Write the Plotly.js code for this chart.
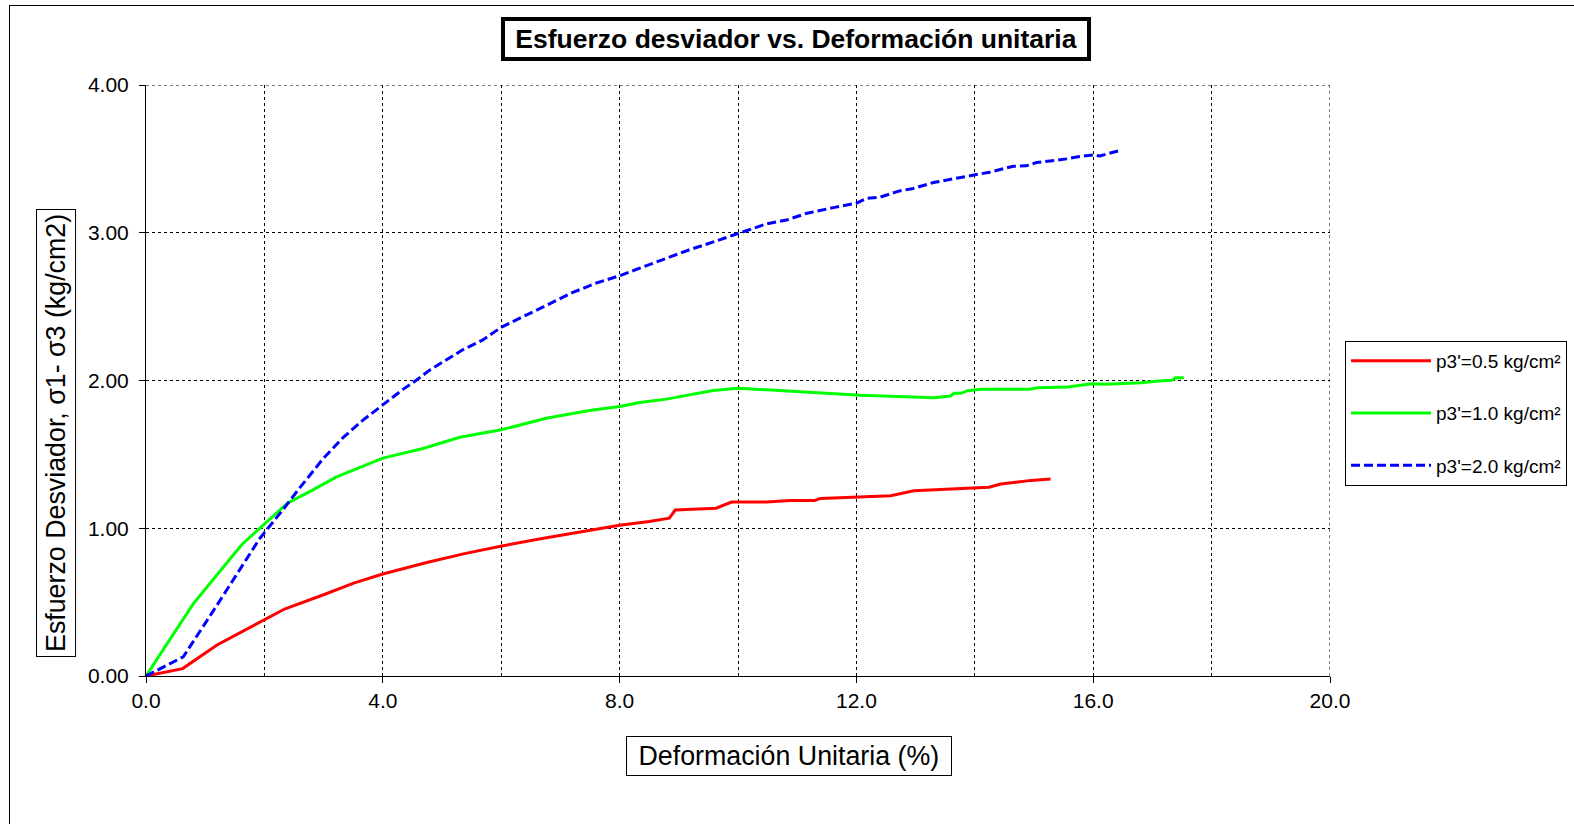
<!DOCTYPE html>
<html>
<head>
<meta charset="utf-8">
<script src="https://cdn.plot.ly/plotly-3.0.1.min.js"></script>
<style>
html, body { margin: 0; padding: 0; background: #fff; overflow: hidden; }
#chart { width: 1574px; height: 824px; }
#frame { position: absolute; left: 9px; top: 5px; width: 1600px; height: 900px; border: 1px solid #000; pointer-events: none; }
</style>
</head>
<body>
<div id="chart"></div>
<div id="frame"></div>
<script>
const seriesNames = ["p3'=0.5 kg/cm²", "p3'=1.0 kg/cm²", "p3'=2.0 kg/cm²"];

const redX = [0, 0.62, 1.2, 1.77, 2.35, 3.0, 3.52, 4.0, 4.76, 5.4, 6.01, 6.69, 7.4, 8.0, 8.5, 8.84, 8.94, 9.63, 9.89, 10.48, 10.88, 11.30, 11.39, 11.78, 12.07, 12.58, 12.97, 13.5, 14.05, 14.24, 14.44, 14.84, 14.95, 15.28];
const redY = [0, 0.05, 0.21, 0.33, 0.455, 0.55, 0.63, 0.69, 0.77, 0.83, 0.88, 0.93, 0.98, 1.02, 1.046, 1.068, 1.123, 1.136, 1.177, 1.177, 1.188, 1.188, 1.202, 1.209, 1.211, 1.220, 1.254, 1.262, 1.270, 1.277, 1.299, 1.317, 1.324, 1.333];

const greenX = [0, 0.8, 1.62, 2.03, 2.39, 2.82, 3.21, 4.0, 4.68, 5.30, 5.63, 6.0, 6.76, 7.49, 8.0, 8.34, 8.79, 9.18, 9.58, 10.0, 10.14, 11.0, 12.07, 13.31, 13.59, 13.65, 13.76, 13.88, 14.10, 14.92, 15.06, 15.57, 15.97, 16.20, 16.82, 17.10, 17.33, 17.39, 17.53];
const greenY = [0, 0.49, 0.89, 1.04, 1.17, 1.26, 1.346, 1.475, 1.54, 1.616, 1.639, 1.666, 1.745, 1.797, 1.824, 1.851, 1.874, 1.903, 1.932, 1.948, 1.945, 1.925, 1.90, 1.883, 1.895, 1.913, 1.913, 1.931, 1.940, 1.940, 1.951, 1.956, 1.978, 1.975, 1.985, 1.997, 2.001, 2.019, 2.019];

const blueX = [0, 0.63, 1.2, 1.92, 2.31, 2.59, 2.99, 3.32, 3.66, 4.0, 4.34, 4.56, 4.79, 5.35, 5.69, 6.0, 6.37, 6.76, 7.21, 7.61, 8.0, 8.34, 8.79, 9.18, 9.60, 10.0, 10.48, 10.82, 11.15, 11.61, 12.0, 12.17, 12.39, 12.73, 12.96, 13.30, 13.63, 14.0, 14.25, 14.65, 14.87, 15.04, 15.38, 15.55, 15.77, 16.0, 16.11, 16.48];
const blueY = [0, 0.13, 0.48, 0.93, 1.124, 1.27, 1.47, 1.61, 1.73, 1.836, 1.94, 2.0, 2.07, 2.208, 2.275, 2.36, 2.433, 2.512, 2.596, 2.66, 2.709, 2.76, 2.828, 2.885, 2.94, 2.995, 3.06, 3.086, 3.13, 3.17, 3.20, 3.233, 3.24, 3.283, 3.30, 3.34, 3.364, 3.39, 3.41, 3.45, 3.453, 3.475, 3.49, 3.50, 3.516, 3.527, 3.52, 3.56];

const chartTitle = "Esfuerzo desviador vs. Deformación unitaria";
const xTitle = "Deformación Unitaria (%)";
const yTitle = "Esfuerzo Desviador, σ1- σ3 (kg/cm2)";

const X_MAX = 20, Y_MAX = 4;
const FONT = "Arial, 'Liberation Sans', sans-serif";

const traces = [
  {x: redX, y: redY, name: seriesNames[0], mode: 'lines', legendgroup: 'a',
   line: {color: '#FF0000', width: 3}},
  {x: greenX, y: greenY, name: seriesNames[1], mode: 'lines', legendgroup: 'b',
   line: {color: '#00FF00', width: 3}},
  {x: blueX, y: blueY, name: seriesNames[2], mode: 'lines', legendgroup: 'c',
   line: {color: '#0000FF', width: 3, dash: '9px,4px'}}
];

const gridEdge = {type: 'line', layer: 'below', line: {color: '#000', width: 1, dash: 'dot'}};

const layout = {
  width: 1574, height: 824,
  paper_bgcolor: '#fff', plot_bgcolor: '#fff',
  margin: {l: 146, r: 244, t: 85, b: 148, autoexpand: false},
  font: {family: FONT, color: '#000', size: 21},
  showlegend: true,
  legend: {
    x: 1.0127, xanchor: 'left', y: 0.5668, yanchor: 'top',
    bordercolor: '#000', borderwidth: 1, bgcolor: '#fff',
    font: {family: FONT, size: 19, color: '#000'},
    itemwidth: 80, tracegroupgap: 24.5, traceorder: 'grouped'
  },
  xaxis: {
    range: [0, X_MAX], dtick: 4, tick0: 0, tickformat: '.1f',
    showline: true, linecolor: '#000', linewidth: 1,
    ticks: 'outside', ticklen: 6, tickcolor: '#000',
    showgrid: true, gridcolor: '#000', gridwidth: 1, griddash: 'dot',
    minor: {dtick: 2, showgrid: true, gridcolor: '#000', gridwidth: 1, griddash: 'dot'},
    zeroline: false, tickfont: {size: 21}
  },
  yaxis: {
    range: [0, Y_MAX], dtick: 1, tick0: 0, tickformat: '.2f',
    showline: true, linecolor: '#000', linewidth: 1,
    ticks: 'outside', ticklen: 6, tickcolor: '#000', ticklabelstandoff: 6,
    showgrid: true, gridcolor: '#000', gridwidth: 1, griddash: 'dot',
    zeroline: false, tickfont: {size: 21}
  },
  shapes: [
    Object.assign({xref: 'x', yref: 'y', x0: 0, x1: X_MAX, y0: Y_MAX, y1: Y_MAX}, gridEdge),
    Object.assign({xref: 'x', yref: 'y', x0: X_MAX, x1: X_MAX, y0: 0, y1: Y_MAX}, gridEdge)
  ],
  annotations: [
    {text: '<b>&nbsp;' + chartTitle + '&nbsp;</b>', xref: 'paper', yref: 'paper',
     x: 0.549, y: 1.0778, xanchor: 'center', yanchor: 'middle', showarrow: false,
     font: {family: FONT, size: 26.5, color: '#000'},
     bordercolor: '#000', borderwidth: 4, borderpad: 3, bgcolor: '#fff'},
    {text: '&nbsp;' + xTitle + '&nbsp;', xref: 'paper', yref: 'paper',
     x: 0.5427, y: -0.1362, xanchor: 'center', yanchor: 'middle', showarrow: false,
     font: {family: FONT, size: 26.8, color: '#000'},
     bordercolor: '#000', borderwidth: 1, borderpad: 4, bgcolor: '#fff'},
    {text: yTitle, xref: 'paper', yref: 'paper', textangle: -90,
     x: -0.076, y: 0.4112, xanchor: 'center', yanchor: 'middle', showarrow: false,
     font: {family: FONT, size: 26.8, color: '#000'},
     bordercolor: '#000', borderwidth: 1, borderpad: 4, bgcolor: '#fff'}
  ]
};

Plotly.newPlot('chart', traces, layout, {displayModeBar: false, staticPlot: true});
</script>
</body>
</html>
